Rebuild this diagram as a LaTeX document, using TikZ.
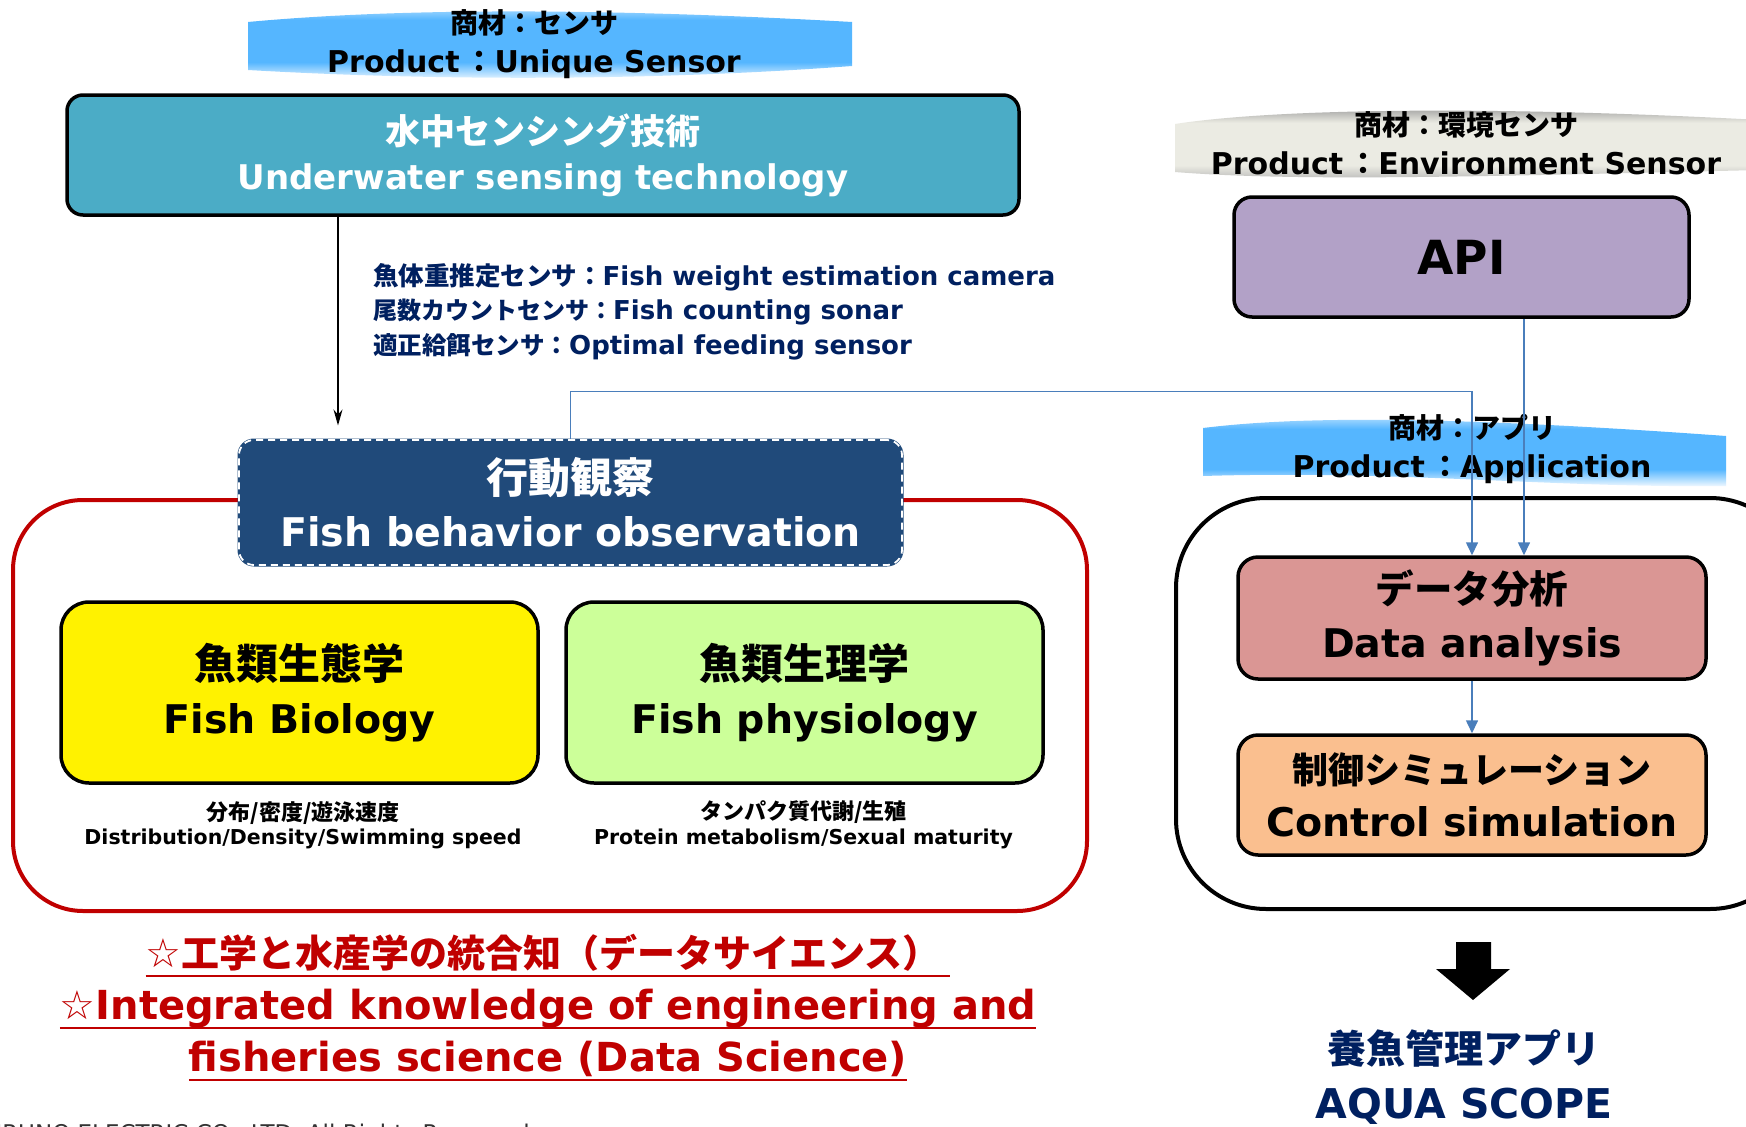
\documentclass[tikz,border=0pt]{standalone}
\usepackage{fontspec}
\setmainfont{DejaVu Sans}
\newfontfamily\jpfont{Noto Sans CJK JP Bold}
\usetikzlibrary{arrows.meta, positioning}
\definecolor{sensecol}{HTML}{4BACC6}
\definecolor{behavecol}{HTML}{204A7A}
\definecolor{redline}{HTML}{C00000}
\definecolor{physcol}{HTML}{CCFF99}
\definecolor{apicol}{HTML}{B2A1C7}
\definecolor{datacol}{HTML}{DA9694}
\definecolor{ctrlcol}{HTML}{FABF8F}
\definecolor{navytext}{HTML}{002060}
\definecolor{connblue}{HTML}{4A7EBB}
\definecolor{bannerblue}{HTML}{55B6FF}
\definecolor{bannergray}{HTML}{EBEBE3}
\pgfdeclareverticalshading{bluewave}{100bp}{color(0bp)=(white); color(25bp)=(white);
  color(38bp)=(bannerblue); color(66bp)=(bannerblue); color(75bp)=(bannerblue!45!white); color(100bp)=(bannerblue!45!white)}
\pgfdeclareverticalshading{graywave}{100bp}{color(0bp)=(black!30); color(25bp)=(black!30);
  color(36bp)=(bannergray); color(64bp)=(bannergray); color(75bp)=(black!40); color(100bp)=(black!40)}
\newcommand{\jp}[1]{{\jpfont #1}}
\newcommand{\setfs}[2]{\fontsize{#1}{#2}\selectfont}
\newsavebox{\ulbox}
\newcommand{\redul}[1]{\sbox{\ulbox}{#1}\rlap{\smash{\rule[-10pt]{\wd\ulbox}{2.5pt}}}\usebox{\ulbox}}

\begin{document}
\begin{tikzpicture}[
    x=1pt, y=-1pt,
    box/.style = {draw, line width=3.5pt, align=center, font=\bfseries\setfs{39.5}{53.5}},
    conn/.style = {draw=connblue, line width=1.6pt, -{Triangle[length=13pt,width=12pt]}},
    arrow/.style = {-{Stealth[length=16pt,width=9pt]}, line width=1.4pt},
    banner/.style = {align=center, inner sep=0pt, font=\bfseries\setfs{30}{39}},
    note/.style = {align=center, inner sep=0pt, font=\bfseries\setfs{20.5}{24.5}}
  ]
  \useasboundingbox (0,0) rectangle (1746,1127);
  \clip (0,0) rectangle (1746,1127);
  \fill[white] (0,0) rectangle (1746,1127);

  % Banners
  \shade[shading=bluewave]
    (248,22) .. controls (420,6) and (640,10) .. (852,22) -- (852,66) .. controls (640,82) and (420,80) .. (248,70) -- cycle;
  \shade[shading=graywave]
    (1175,124) .. controls (1280,108) and (1500,106) .. (1760,120) -- (1760,170) .. controls (1500,176) and (1300,182) .. (1175,172) -- cycle;
  \shade[shading=bluewave]
    (1203,428) .. controls (1300,416) and (1450,416) .. (1726,436) -- (1726,486) .. controls (1550,488) and (1400,470) .. (1203,476) -- cycle;
  \node[banner] (tagsensor) at (534,44) {\jp{\setfs{28}{39}商材：センサ}\\Product\,\jp{：}Unique Sensor};
  \node[banner] (tagenv) at (1466,143) {\jp{\setfs{28}{39}商材：環境センサ}\\Product\,\jp{：}Environment Sensor};
  \node[banner] (tagapp) at (1472,449) {\jp{\setfs{28}{39}商材：アプリ}\\Product\,\jp{：}Application};

  % Sensing side
  \node[box, fill=sensecol, text=white, minimum width=952pt, minimum height=120pt, rounded corners=16pt,
        font=\bfseries\setfs{34}{45}] (sense) at (543,155)
        {\jp{\setfs{35}{45}水中センシング技術}\\Underwater sensing technology};
  \node[anchor=west, align=left, inner sep=0pt, text=navytext, font=\bfseries\setfs{26}{34.5}] (sensors) at (373,311.5)
        {\jp{\setfs{25.5}{34.5}魚体重推定センサ：}Fish weight estimation camera\\
         \jp{\setfs{24}{34.5}尾数カウントセンサ：}Fish counting sonar\\
         \jp{\setfs{24.5}{34.5}適正給餌センサ：}Optimal feeding sensor};
  \node[draw=redline, line width=4pt, rounded corners=70pt, minimum width=1074pt, minimum height=411pt] (frame) at (550,705.5) {};
  \node[box, fill=behavecol, draw=behavecol, line width=3pt, text=white, rounded corners=15pt,
        minimum width=663pt, minimum height=125pt, font=\bfseries\setfs{39.5}{53},
        postaction={draw=white, line width=1.8pt, dash pattern=on 7pt off 5pt}] (behave) at (570.5,502.5)
        {\jp{\setfs{42}{53}行動観察}\\Fish behavior observation};
  \node[box, fill=yellow, minimum width=477pt, minimum height=181pt, rounded corners=28pt] (bio) at (299.5,692.5)
        {\jp{\setfs{42}{53.5}魚類生態学}\\Fish Biology};
  \node[box, fill=physcol, minimum width=477pt, minimum height=181pt, rounded corners=28pt, right=24.5pt of bio] (phys)
        {\jp{\setfs{42}{53.5}魚類生理学}\\Fish physiology};
  \node[note] (bionote) at (303,825) {\jp{\setfs{22}{24.5}分布/密度/遊泳速度}\\Distribution/Density/Swimming speed};
  \node[note] (physnote) at (803.5,825) {\jp{\setfs{22}{24.5}タンパク質代謝/生殖}\\Protein metabolism/Sexual maturity};
  \node[align=center, inner sep=0pt, text=redline, font=\bfseries\setfs{40}{52}] (claim) at (548,1005)
        {\redul{☆\jp{\setfs{38}{52}工学と水産学の統合知（データサイエンス）}\hspace{10pt}}\\
         \redul{☆Integrated knowledge of engineering and}\\
         \redul{fisheries science (Data Science)}};

  % Application side
  \node[box, fill=apicol, minimum width=455pt, minimum height=120pt, rounded corners=18pt,
        font=\bfseries\setfs{47}{50}] (api) at (1461.5,257) {API};
  \node[draw, line width=4pt, rounded corners=90pt, minimum width=624pt, minimum height=411pt] (appframe) at (1488,703.5) {};
  \node[box, fill=datacol, minimum width=468pt, minimum height=122pt, rounded corners=20pt] (data) at (1472,618)
        {\jp{\setfs{38.5}{54}データ分析}\\Data analysis};
  \node[box, fill=ctrlcol, minimum width=468pt, minimum height=120pt, rounded corners=20pt, below=52.5pt of data] (ctrl)
        {\jp{\setfs{36}{53.5}制御シミュレーション}\\Control simulation};
  \fill (1456,942) -- (1491,942) -- (1491,969) -- (1510,969) -- (1473,1000) -- (1436,969) -- (1456,969) -- cycle;
  \node[align=center, inner sep=0pt, text=navytext, font=\bfseries\setfs{41}{55}] (aqua) at (1464,1077)
        {\jp{\setfs{39}{55}養魚管理アプリ}\\AQUA SCOPE};
  \node[anchor=base west, inner sep=0pt, text=black!80, font=\setfs{23}{25}] (footer) at (-28,1141)
        {FURUNO ELECTRIC CO., LTD. All Rights Reserved.};

  % Connectors
  \draw[arrow] ([xshift=-205pt]sense.south) -- ([xshift=-232.5pt,yshift=13pt]behave.north);
  \draw[conn] (behave.north) -- ++(0,-47) -| (data.north);
  \draw[conn] ([xshift=62.5pt]api.south) -- ([xshift=52pt]data.north);
  \draw[conn] (data.south) -- (ctrl.north);
\end{tikzpicture}
\end{document}
